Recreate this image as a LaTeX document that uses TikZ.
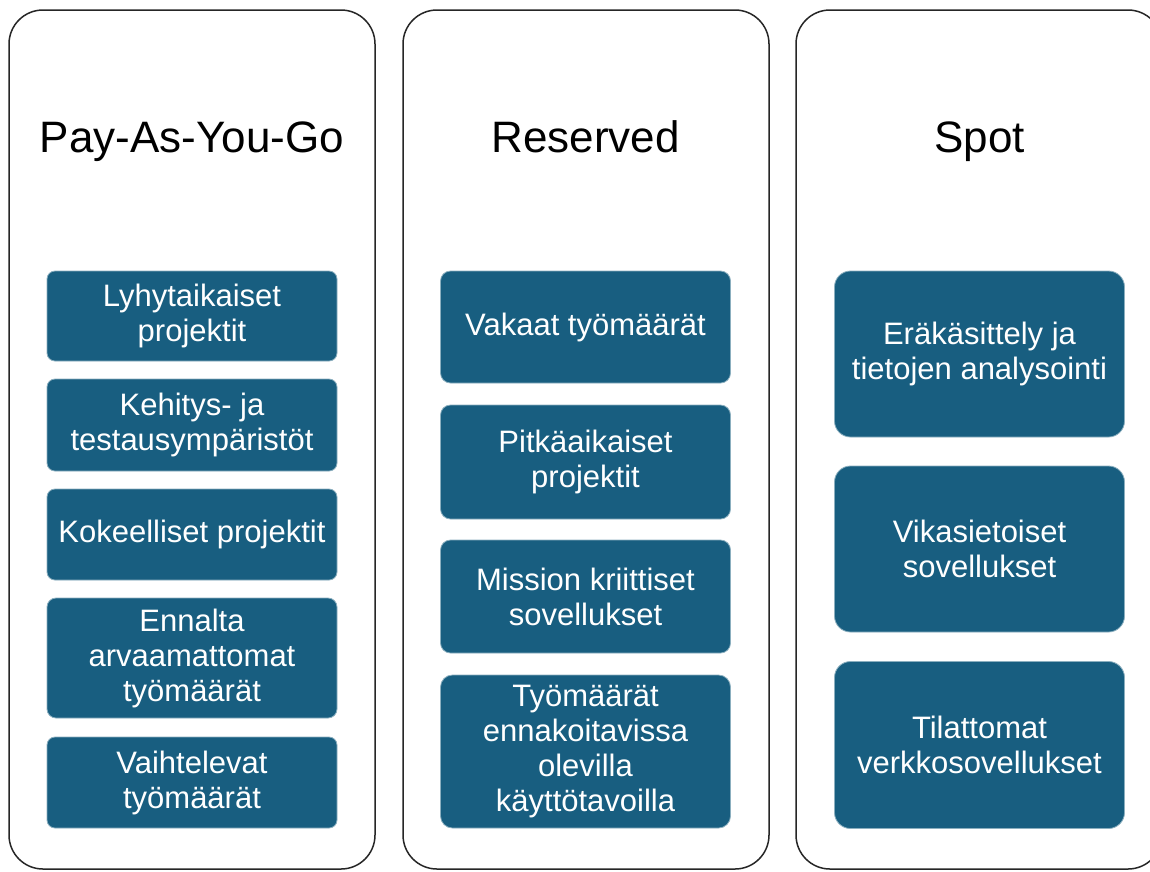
\documentclass[tikz,border=0pt]{standalone}
\usepackage{fontspec}
\setmainfont{Liberation Sans}
\definecolor{itemblue}{RGB}{24,94,128}
\tikzset{
    column/.style={draw=black!85, line width=1.5pt, rounded corners=34pt},
    heading/.style={anchor=base, font=\fontsize{44}{52}\selectfont},
    item/.style={fill=itemblue, draw=itemblue!50!white, line width=0.8pt, text=white,
        align=center, minimum width=290pt, inner sep=2pt,
        font=\fontsize{31}{35}\selectfont},
}

\begin{document}
\begin{tikzpicture}[x=1pt, y=-1pt]
    \clip (0,0) rectangle (1150,871);
    \fill[white] (0,0) rectangle (1150,871);

    % Columns
    \draw[column] (9,10) rectangle (375,869);
    \draw[column] (403,10) rectangle (769,869);
    \draw[column] (796,10) rectangle (1162,869);
    \node[heading] (payg) at (192,152) {Pay-As-You-Go};
    \node[heading] (reserved) at (585.5,152) {Reserved};
    \node[heading] (spot) at (979.5,152) {Spot};

    % Pay-As-You-Go
    \node[item, minimum height=90pt, rounded corners=8pt] (p1) at (192,316) {Lyhytaikaiset\\projektit};
    \node[item, minimum height=92pt, rounded corners=8pt] (p2) at (192,425) {Kehitys- ja\\testausympäristöt};
    \node[item, minimum height=91pt, rounded corners=8pt] (p3) at (192,534.5) {Kokeelliset projektit};
    \node[item, minimum height=120pt, rounded corners=9pt] (p4) at (192,658) {Ennalta\\arvaamattomat\\työmäärät};
    \node[item, minimum height=91pt, rounded corners=8pt] (p5) at (192,782.5) {Vaihtelevat\\työmäärät};

    % Reserved
    \node[item, minimum height=112pt, rounded corners=10pt] (r1) at (585.5,327) {Vakaat työmäärät};
    \node[item, minimum height=114pt, rounded corners=10pt] (r2) at (585.5,462) {Pitkäaikaiset\\projektit};
    \node[item, minimum height=113pt, rounded corners=10pt] (r3) at (585.5,596.5) {Mission kriittiset\\sovellukset};
    \node[item, minimum height=153pt, rounded corners=12pt] (r4) at (585.5,751.5) {Työmäärät\\ennakoitavissa\\olevilla\\käyttötavoilla};

    % Spot
    \node[item, minimum height=166pt, rounded corners=16pt] (s1) at (979.5,354) {Eräkäsittely ja\\tietojen analysointi};
    \node[item, minimum height=166pt, rounded corners=16pt] (s2) at (979.5,549) {Vikasietoiset\\sovellukset};
    \node[item, minimum height=167pt, rounded corners=16pt] (s3) at (979.5,745) {Tilattomat\\verkkosovellukset};
\end{tikzpicture}
\end{document}
